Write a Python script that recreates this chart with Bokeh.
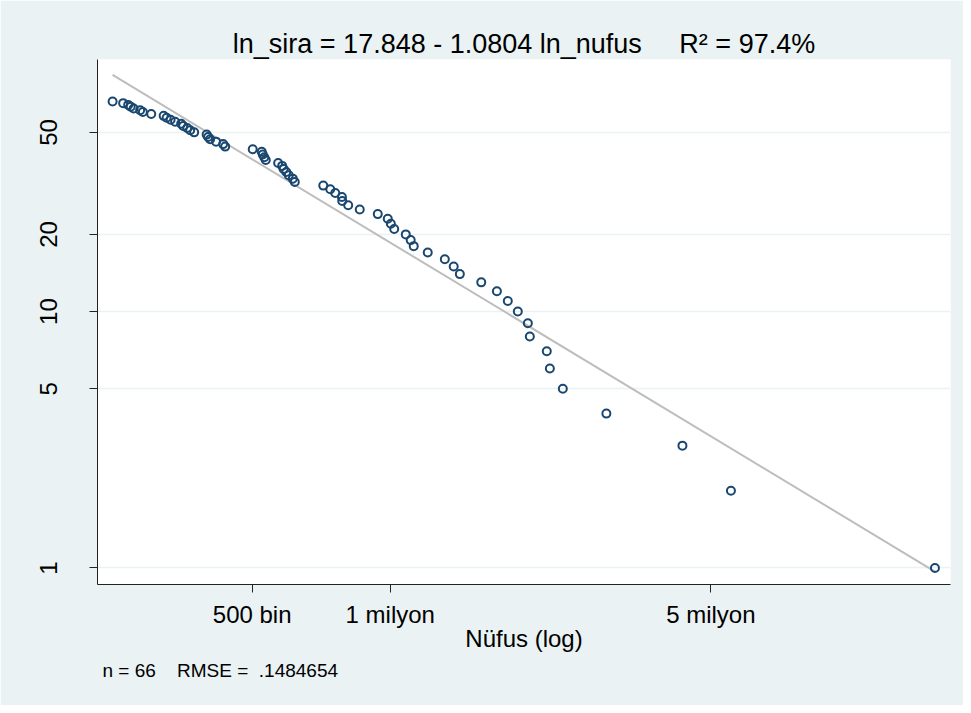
import numpy as np
from bokeh.plotting import figure
from bokeh.models import Range1d, FixedTicker, ColumnDataSource, Title
from bokeh.embed import file_html
from bokeh.resources import INLINE

# ---- data ----
rank = list(range(1, 67))
population = [15400000, 5530000, 4335000, 2959000, 2378000, 2228000, 2194000, 2015000, 1995000, 1897000,
              1804000, 1708000, 1579000, 1418000, 1375000, 1315000, 1207000, 1125000, 1108000, 1081000,
              1020000, 1003000, 987500, 939200, 858000, 809600, 785800, 784500, 758700, 739900,
              714400, 619200, 613000, 600800, 593300, 585500, 581200, 569600, 535300, 531300,
              527300, 524600, 501300, 436600, 432200, 417100, 404800, 400800, 397800, 373700,
              366300, 360800, 353600, 350000, 339600, 332000, 325400, 320600, 301200, 288800,
              284900, 275800, 271700, 268300, 261600, 248100]
fit_intercept = 17.848
fit_slope = -1.0804
x_tick_values = [500000, 1000000, 5000000]
x_tick_labels = ["500 bin", "1 milyon", "5 milyon"]
y_tick_values = [1, 5, 10, 20, 50]

NB = "\u00a0"
title_text = "ln_sira = 17.848 - 1.0804 ln_nufus" + NB * 5 + "R\u00b2 = 97.4%"
note_text = "n = 66" + NB * 4 + "RMSE =" + NB * 2 + ".1484654"
x_label = "Nüfus (log)"

FONT = "Liberation Sans"
BG = "#EAF2F3"
NAVY = "#1A476F"
TXT = "#000000"

src = ColumnDataSource(data=dict(pop=population, rank=rank))
pmin, pmax = min(population), max(population)
fit_x = np.array([pmin, pmax], dtype=float)
fit_y = np.exp(fit_intercept + fit_slope * np.log(fit_x))

p = figure(width=963, height=705, x_axis_type="log", y_axis_type="log",
           x_range=Range1d(230000, 16650000), y_range=Range1d(0.862, 96.2),
           output_backend="svg", toolbar_location=None,
           min_border_left=97, min_border_right=13, min_border_top=59, min_border_bottom=121)
p.background_fill_color = "white"
p.border_fill_color = BG
p.outline_line_color = None

# title
p.title.text = title_text
p.title.align = "center"
p.title.text_font = FONT
p.title.text_font_size = "27px"
p.title.text_font_style = "normal"
p.title.text_color = TXT
p.title.standoff = 1

# grid
p.xgrid.visible = False
p.ygrid.ticker = FixedTicker(ticks=y_tick_values)
p.ygrid.grid_line_color = BG
p.ygrid.grid_line_width = 1.6

# fit line and points
p.line(fit_x, fit_y, line_color="#BDBDBD", line_width=2)
p.scatter("pop", "rank", source=src, size=8, marker="circle", fill_color=None,
          line_color=NAVY, line_width=2)

# axes
for ax in (p.xaxis[0], p.yaxis[0]):
    ax.axis_line_color = "#222222"
    ax.axis_line_width = 1
    ax.major_tick_line_color = "#222222"
    ax.major_tick_out = 8
    ax.major_tick_in = 0
    ax.minor_tick_line_color = None
    ax.major_label_text_font = FONT
    ax.major_label_text_font_size = "24px"
    ax.major_label_text_color = TXT

p.xaxis.ticker = FixedTicker(ticks=x_tick_values)
p.xaxis.major_label_overrides = {v: l for v, l in zip(x_tick_values, x_tick_labels)}
p.xaxis.major_label_standoff = 8
p.xaxis.axis_label = x_label
p.xaxis.axis_label_text_font = FONT
p.xaxis.axis_label_text_font_size = "24px"
p.xaxis.axis_label_text_font_style = "normal"
p.xaxis.axis_label_text_color = TXT
p.xaxis.axis_label_standoff = -6

p.yaxis.ticker = FixedTicker(ticks=y_tick_values)
p.yaxis.major_label_overrides = {v: str(v) for v in y_tick_values}
p.yaxis.major_label_orientation = "vertical"
p.yaxis.major_label_standoff = 32

# footnote
note = Title(text=note_text, align="left", offset=5, standoff=7,
             text_font=FONT, text_font_size="19px", text_font_style="normal", text_color=TXT)
p.add_layout(note, "below")

open("out.html", "w").write(file_html(p, INLINE))
